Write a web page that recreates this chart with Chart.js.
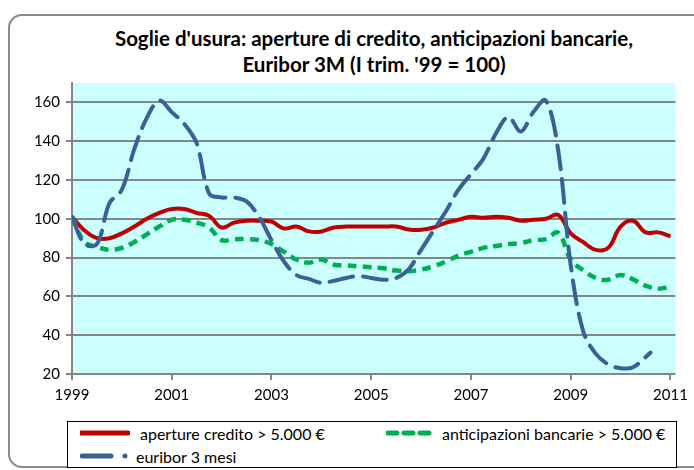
<!DOCTYPE html>
<html><head><meta charset="utf-8">
<script src="https://cdn.jsdelivr.net/npm/chart.js@4"></script>
<style>
html,body{margin:0;padding:0;background:#fff;width:694px;height:470px;overflow:hidden;font-family:Lato,"Open Sans",sans-serif}
#frame{position:absolute;left:8px;top:14px;width:720px;height:454px;border:2px solid #8a8a8a;border-radius:14px;box-sizing:border-box}
#title{position:absolute;left:0;top:25px;width:748px;text-align:center;font-weight:bold;font-size:20.5px;line-height:26px;color:#000}
#wrap{position:absolute;left:0;top:0;width:694px;height:470px}
#legend{position:absolute;left:67px;top:421px;width:610px;height:47px;border:1.5px solid #000;box-sizing:border-box;font-size:16px;color:#000;background:#fff}
.item{position:absolute;display:flex;align-items:center;height:20px;white-space:nowrap}
.item svg{display:block;margin-right:10px}
</style></head>
<body>
<div id="frame"></div>
<div id="title">Soglie d'usura: aperture di credito, anticipazioni bancarie,<br>Euribor 3M (I trim. '99 = 100)</div>
<div id="wrap"><canvas id="c" width="694" height="470"></canvas></div>
<div id="legend">
  <div class="item" style="left:12px;top:1px"><svg width="50" height="8"><line x1="1" y1="4" x2="48" y2="4" stroke="#c00000" stroke-width="5" stroke-linecap="round"/></svg>aperture credito &gt; 5.000 €</div>
  <div class="item" style="left:318px;top:1px"><svg width="46" height="8"><line x1="2" y1="4" x2="44" y2="4" stroke="#00b050" stroke-width="5" stroke-linecap="round" stroke-dasharray="9,7"/></svg>anticipazioni bancarie &gt; 5.000 €</div>
  <div class="item" style="left:12px;top:24px"><svg width="54" height="8"><line x1="2" y1="4" x2="31" y2="4" stroke="#3a6095" stroke-width="5" stroke-linecap="round"/><circle cx="45" cy="4" r="2.5" fill="#3a6095"/></svg><span style="margin-left:-8px">euribor 3 mesi</span></div>
</div>
<script>
const quarters = [1999,1999.25,1999.5,1999.75,2000,2000.25,2000.5,2000.75,2001,2001.25,2001.5,2001.75,2002,2002.25,2002.5,2002.75,2003,2003.25,2003.5,2003.75,2004,2004.25,2004.5,2004.75,2005,2005.25,2005.5,2005.75,2006,2006.25,2006.5,2006.75,2007,2007.25,2007.5,2007.75,2008,2008.25,2008.5,2008.75,2009,2009.25,2009.5,2009.75,2010,2010.25,2010.5,2010.75,2011];
const apertureCredito = [101,94,90,90,92.5,96,100,103,105,105,103,101.5,95.5,98,99,99,98.5,95,96,93.5,93.5,95.5,96,96,96,96,96,94.5,94.3,95.5,98,99.5,101,100.5,101,100.5,99,99.5,100,102,92.5,88,84,85,96,99,93,93,91];
const anticipazioni = [101,88,85.6,84,85,88,92,96,99.5,99.5,98,95.5,89,89.5,89.5,89,87,83,79,77.4,79,76.3,76,75.5,75,74.5,73.3,73,73.8,75.5,78,81,83,85,86,87,87.5,89,89.5,92.8,79,73.5,69.5,68.6,71,68.8,65.5,64,65];
const euriborDates = [1999,1999.25,1999.5,1999.75,2000,2000.25,2000.5,2000.75,2001,2001.25,2001.5,2001.75,2002,2002.25,2002.5,2002.75,2003,2003.25,2003.5,2003.75,2004,2004.25,2004.5,2004.75,2005,2005.25,2005.5,2005.75,2006,2006.25,2006.5,2006.75,2007,2007.25,2007.5,2007.75,2008,2008.25,2008.5,2008.75,2009,2009.25,2009.5,2009.75,2010,2010.25,2010.6];
const euribor3m = [101,87,87,108,115,136,152,161,155,149,139,113,111,111,109,101,89,78,71,69,67,68,69.5,70.5,69.5,68.6,69.5,74,84,94,104,115,123,131,144,152.5,145,155,161,135,76,42,30.5,25,23,23.5,31];
const xTicks = [1999,2001,2003,2005,2007,2009,2011];
const yTicks = [20,40,60,80,100,120,140,160];

const pts = (xs, ys) => ys.map((v,i)=>({x:xs[i], y:v}));

const bgPlugin = {
  id:'bg',
  beforeDraw(chart){
    const {ctx, chartArea:a} = chart;
    ctx.save(); ctx.fillStyle='#ccffff';
    ctx.fillRect(a.left, a.top, a.right-a.left, a.bottom-a.top);
    ctx.restore();
  }
};

new Chart(document.getElementById('c'), {
  type:'line',
  data:{datasets:[
    {label:'aperture credito > 5.000 €', data:pts(quarters, apertureCredito), borderColor:'#c00000', borderWidth:4, tension:0.4, pointRadius:0, order:2},
    {label:'anticipazioni bancarie > 5.000 €', data:pts(quarters, anticipazioni), borderColor:'#00b050', borderWidth:4.5, borderDash:[9,6], tension:0.4, pointRadius:0, order:1},
    {label:'euribor 3 mesi', data:pts(euriborDates, euribor3m), borderColor:'#3a6095', borderWidth:4, borderDash:[24,10], borderCapStyle:'round', tension:0.35, pointRadius:0, order:0}
  ]},
  options:{
    responsive:false, animation:false,
    layout:{padding:{left:0, top:83, right:14, bottom:56}},
    plugins:{legend:{display:false}, title:{display:false}, tooltip:{enabled:false}},
    scales:{
      x:{type:'linear', min:1999, max:2011.1,
        afterBuildTicks(s){ s.ticks = xTicks.map(v=>({value:v})); },
        afterFit(s){ s.height = 40; },
        grid:{drawOnChartArea:false, drawTicks:true, tickLength:6, color:'#868686', lineWidth:2},
        border:{display:false},
        ticks:{color:'#000', font:{family:'Lato', size:15}, padding:6, maxRotation:0, autoSkip:false, callback:v=>String(v)}
      },
      y:{min:20, max:170,
        afterBuildTicks(s){ s.ticks = yTicks.map(v=>({value:v})); },
        afterFit(s){ s.width = 72; },
        grid:{color:'#868686', lineWidth:2, tickLength:6},
        border:{color:'#868686', width:2},
        ticks:{color:'#000', font:{family:'Lato', size:15}, padding:6}
      }
    }
  },
  plugins:[bgPlugin]
});
</script>
</body></html>
